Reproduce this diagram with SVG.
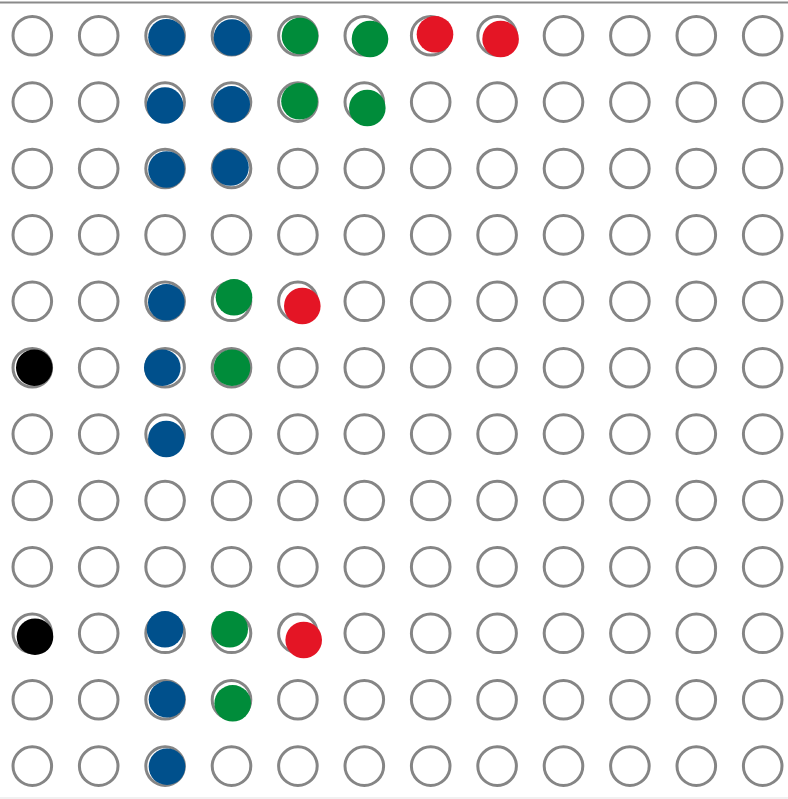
<svg xmlns="http://www.w3.org/2000/svg" xmlns:xlink="http://www.w3.org/1999/xlink" width="788" height="799" viewBox="0 0 788 799">
<style>
.ring{fill:#fff;stroke:#858585;stroke-width:3}
.blue{fill:#00508c}
.green{fill:#008c3a}
.red{fill:#e41525}
.black{fill:#000}
</style>
<defs>
<circle id="ring" cx="0" cy="0" r="19.3" class="ring"/>
<g id="row">
<use xlink:href="#ring" x="32.3"/><use xlink:href="#ring" x="98.7"/><use xlink:href="#ring" x="165.1"/><use xlink:href="#ring" x="231.5"/><use xlink:href="#ring" x="297.9"/><use xlink:href="#ring" x="364.3"/><use xlink:href="#ring" x="430.7"/><use xlink:href="#ring" x="497.1"/><use xlink:href="#ring" x="563.5"/><use xlink:href="#ring" x="629.9"/><use xlink:href="#ring" x="696.3"/><use xlink:href="#ring" x="762.7"/>
</g>
</defs>
<rect x="0" y="0" width="788" height="799" fill="#fff"/>
<line x1="0" y1="2.5" x2="788" y2="2.5" stroke="#8a8a8a" stroke-width="2"/>
<line x1="0" y1="798" x2="788" y2="798" stroke="#ececec" stroke-width="1.5"/>
<g id="grid">
<use id="row0" xlink:href="#row" y="35.7"/>
<use id="row1" xlink:href="#row" y="102.1"/>
<use id="row2" xlink:href="#row" y="168.5"/>
<use id="row3" xlink:href="#row" y="234.9"/>
<use id="row4" xlink:href="#row" y="301.3"/>
<use id="row5" xlink:href="#row" y="367.7"/>
<use id="row6" xlink:href="#row" y="434.1"/>
<use id="row7" xlink:href="#row" y="500.5"/>
<use id="row8" xlink:href="#row" y="566.9"/>
<use id="row9" xlink:href="#row" y="633.3"/>
<use id="row10" xlink:href="#row" y="699.7"/>
<use id="row11" xlink:href="#row" y="766.1"/>
</g>
<g id="dots">
<g id="d-r0c2"><circle class="blue" cx="166.5" cy="37.2" r="18.3"/></g>
<g id="d-r0c3"><circle class="blue" cx="232" cy="37.5" r="18.3"/></g>
<g id="d-r0c4"><circle class="green" cx="300" cy="36" r="18.3"/></g>
<g id="d-r0c5"><circle class="green" cx="370" cy="39" r="18.3"/></g>
<g id="d-r0c6"><circle class="red" cx="435" cy="34.3" r="18.3"/></g>
<g id="d-r0c7"><circle class="red" cx="500.6" cy="39" r="18.3"/></g>
<g id="d-r1c2"><circle class="blue" cx="165" cy="105.5" r="18.3"/></g>
<g id="d-r1c3"><circle class="blue" cx="231.7" cy="104.3" r="18.3"/></g>
<g id="d-r1c4"><circle class="green" cx="299.5" cy="101.3" r="18.3"/></g>
<g id="d-r1c5"><circle class="green" cx="367.3" cy="108" r="18.3"/></g>
<g id="d-r2c2"><circle class="blue" cx="166.5" cy="169.5" r="18.3"/></g>
<g id="d-r2c3"><circle class="blue" cx="230.5" cy="167.5" r="18.3"/></g>
<g id="d-r4c2"><circle class="blue" cx="166.3" cy="302.3" r="18.3"/></g>
<g id="d-r4c3"><circle class="green" cx="234" cy="297.3" r="18.3"/></g>
<g id="d-r4c4"><circle class="red" cx="302.3" cy="306" r="18.3"/></g>
<g id="d-r5c0"><circle class="black" cx="34.3" cy="367.7" r="18.3"/></g>
<g id="d-r5c2"><circle class="blue" cx="162.3" cy="367.7" r="18.3"/></g>
<g id="d-r5c3"><circle class="green" cx="232" cy="367.7" r="18.3"/></g>
<g id="d-r6c2"><circle class="blue" cx="166.3" cy="439" r="18.3"/></g>
<g id="d-r9c0"><circle class="black" cx="35" cy="636.7" r="18.3"/></g>
<g id="d-r9c2"><circle class="blue" cx="165" cy="629.3" r="18.3"/></g>
<g id="d-r9c3"><circle class="green" cx="229.7" cy="629.3" r="18.3"/></g>
<g id="d-r9c4"><circle class="red" cx="303.7" cy="640" r="18.3"/></g>
<g id="d-r10c2"><circle class="blue" cx="167" cy="699.3" r="18.3"/></g>
<g id="d-r10c3"><circle class="green" cx="232.7" cy="703.3" r="18.3"/></g>
<g id="d-r11c2"><circle class="blue" cx="167" cy="766.7" r="18.3"/></g>
</g>
</svg>
